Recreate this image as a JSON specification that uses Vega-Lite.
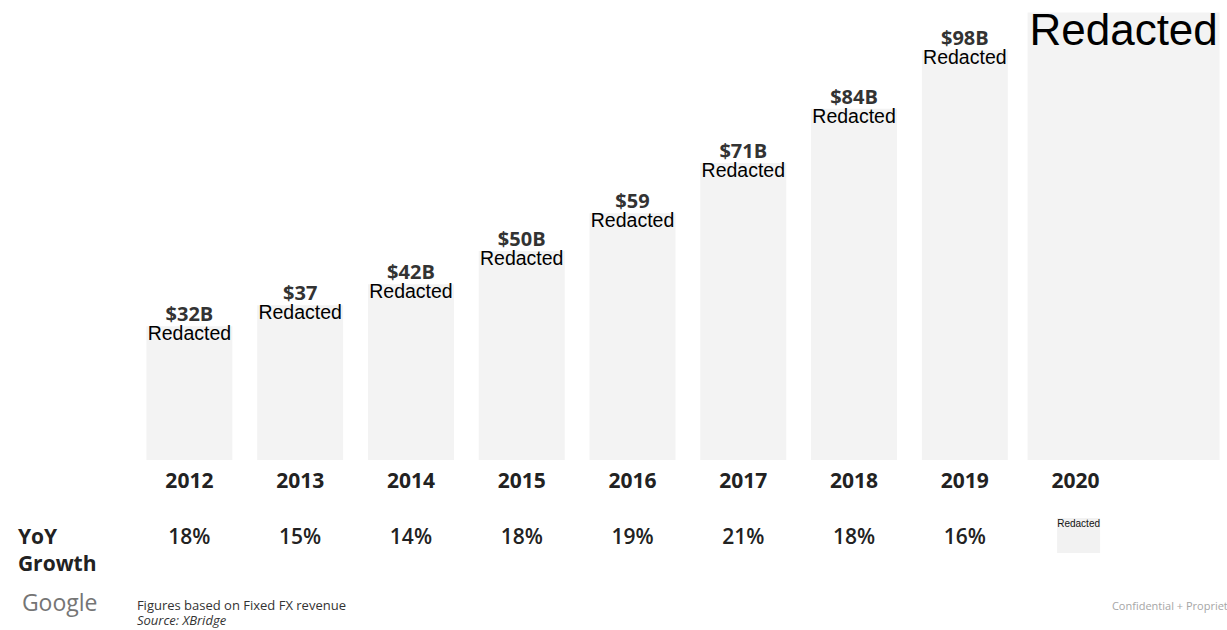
{
  "$schema": "https://vega.github.io/schema/vega-lite/v6.json",
  "width": 997,
  "height": 460,
  "autosize": {"type": "none"},
  "padding": {"left": 134, "top": 0, "right": 96, "bottom": 170},
  "background": "white",
  "config": {
    "view": {"stroke": null},
    "text": {"font": "Open Sans"},
    "axisX": {
      "domain": false,
      "ticks": false,
      "grid": false,
      "labelAngle": 0,
      "labelFont": "Open Sans",
      "labelFontSize": 21,
      "labelFontWeight": "bold",
      "labelColor": "#222222",
      "labelBaseline": "top",
      "labelPadding": 10
    },
    "axisY": {"disable": true}
  },
  "datasets": {
    "revenue": [
      {"year": 2012, "value": 32, "label": "$32B", "note": "Redacted", "yoy": 0.18},
      {"year": 2013, "value": 37, "label": "$37", "note": "Redacted", "yoy": 0.15},
      {"year": 2014, "value": 42, "label": "$42B", "note": "Redacted", "yoy": 0.14},
      {"year": 2015, "value": 50, "label": "$50B", "note": "Redacted", "yoy": 0.18},
      {"year": 2016, "value": 59, "label": "$59", "note": "Redacted", "yoy": 0.19},
      {"year": 2017, "value": 71, "label": "$71B", "note": "Redacted", "yoy": 0.21},
      {"year": 2018, "value": 84, "label": "$84B", "note": "Redacted", "yoy": 0.18},
      {"year": 2019, "value": 98, "label": "$98B", "note": "Redacted", "yoy": 0.16},
      {"year": 2020, "value": 107, "label": null, "note": "Redacted", "yoy": null}
    ]
  },
  "data": {"name": "revenue"},
  "encoding": {
    "x": {
      "field": "year",
      "type": "ordinal",
      "title": null,
      "scale": {"paddingInner": 0.224, "paddingOuter": 0.112}
    }
  },
  "layer": [
    {
      "transform": [{"filter": "datum.year < 2020"}],
      "mark": {"type": "bar", "color": "#f3f3f3"},
      "encoding": {
        "y": {"field": "value", "type": "quantitative", "scale": {"domain": [0, 110]}}
      }
    },
    {
      "transform": [{"filter": "datum.year == 2020"}],
      "mark": {"type": "bar", "color": "#f3f3f3", "width": 192, "xOffset": 48},
      "encoding": {
        "y": {"field": "value", "type": "quantitative"}
      }
    },
    {
      "transform": [{"filter": "datum.label != null"}],
      "mark": {"type": "text", "font": "Open Sans", "fontSize": 20, "fontWeight": "bold", "color": "#333333", "baseline": "alphabetic", "dy": -5},
      "encoding": {
        "y": {"field": "value", "type": "quantitative"},
        "text": {"field": "label"}
      }
    },
    {
      "transform": [{"filter": "datum.year < 2020"}],
      "mark": {"type": "text", "font": "Liberation Sans", "fontSize": 19.5, "color": "#000000", "baseline": "alphabetic", "dy": 14},
      "encoding": {
        "y": {"field": "value", "type": "quantitative"},
        "text": {"field": "note"}
      }
    },
    {
      "transform": [{"filter": "datum.year == 2020"}],
      "mark": {"type": "text", "font": "Liberation Sans", "fontSize": 44, "color": "#000000", "baseline": "alphabetic", "dy": 32, "dx": 48},
      "encoding": {
        "y": {"field": "value", "type": "quantitative"},
        "text": {"field": "note"}
      }
    },
    {
      "transform": [{"filter": "datum.yoy != null"}],
      "mark": {"type": "text", "font": "Open Sans", "fontSize": 21, "fontWeight": 600, "color": "#222222", "baseline": "alphabetic", "dy": 84},
      "encoding": {
        "y": {"datum": 0, "type": "quantitative"},
        "text": {"field": "yoy", "format": ".0%"}
      }
    },
    {
      "transform": [{"filter": "datum.year == 2020"}],
      "mark": {"type": "point", "shape": "M-1,-0.814H1V0.814H-1Z", "size": 1849, "filled": true, "color": "#f2f2f2", "opacity": 1, "xOffset": 3, "yOffset": 75.5},
      "encoding": {
        "y": {"datum": 0, "type": "quantitative"}
      }
    },
    {
      "transform": [{"filter": "datum.year == 2020"}],
      "mark": {"type": "text", "font": "Liberation Sans", "fontSize": 10, "color": "#111111", "baseline": "alphabetic", "dy": 67, "dx": 3},
      "encoding": {
        "y": {"datum": 0, "type": "quantitative"},
        "text": {"field": "note"}
      }
    },
    {
      "data": {"values": [{"text": "YoY\nGrowth"}]},
      "mark": {"type": "text", "font": "Open Sans", "fontSize": 21, "fontWeight": "bold", "color": "#222222", "align": "left", "baseline": "alphabetic", "lineBreak": "\n", "lineHeight": 27, "dx": -171.5, "dy": 84},
      "encoding": {
        "x": {"datum": 2012, "type": "ordinal", "title": null},
        "y": {"datum": 0, "type": "quantitative"},
        "text": {"field": "text"}
      }
    },
    {
      "data": {"values": [{"text": "Google"}]},
      "mark": {"type": "text", "font": "Open Sans", "fontSize": 23, "color": "#757575", "align": "left", "baseline": "alphabetic", "dx": -167.5, "dy": 151},
      "encoding": {
        "x": {"datum": 2012, "type": "ordinal", "title": null},
        "y": {"datum": 0, "type": "quantitative"},
        "text": {"field": "text"}
      }
    },
    {
      "data": {"values": [{"text": "Figures based on Fixed FX revenue"}]},
      "mark": {"type": "text", "font": "Open Sans", "fontSize": 13, "color": "#333333", "align": "left", "baseline": "alphabetic", "dx": -52.5, "dy": 150},
      "encoding": {
        "x": {"datum": 2012, "type": "ordinal", "title": null},
        "y": {"datum": 0, "type": "quantitative"},
        "text": {"field": "text"}
      }
    },
    {
      "data": {"values": [{"text": "Source: XBridge"}]},
      "mark": {"type": "text", "font": "Open Sans", "fontSize": 13, "fontStyle": "italic", "color": "#333333", "align": "left", "baseline": "alphabetic", "dx": -52.5, "dy": 165},
      "encoding": {
        "x": {"datum": 2012, "type": "ordinal", "title": null},
        "y": {"datum": 0, "type": "quantitative"},
        "text": {"field": "text"}
      }
    },
    {
      "data": {"values": [{"text": "Confidential + Proprietary"}]},
      "mark": {"type": "text", "font": "Open Sans", "fontSize": 11, "color": "#a6a6a6", "align": "left", "baseline": "alphabetic", "dx": 36.3, "dy": 150},
      "encoding": {
        "x": {"datum": 2020, "type": "ordinal", "title": null},
        "y": {"datum": 0, "type": "quantitative"},
        "text": {"field": "text"}
      }
    }
  ]
}
